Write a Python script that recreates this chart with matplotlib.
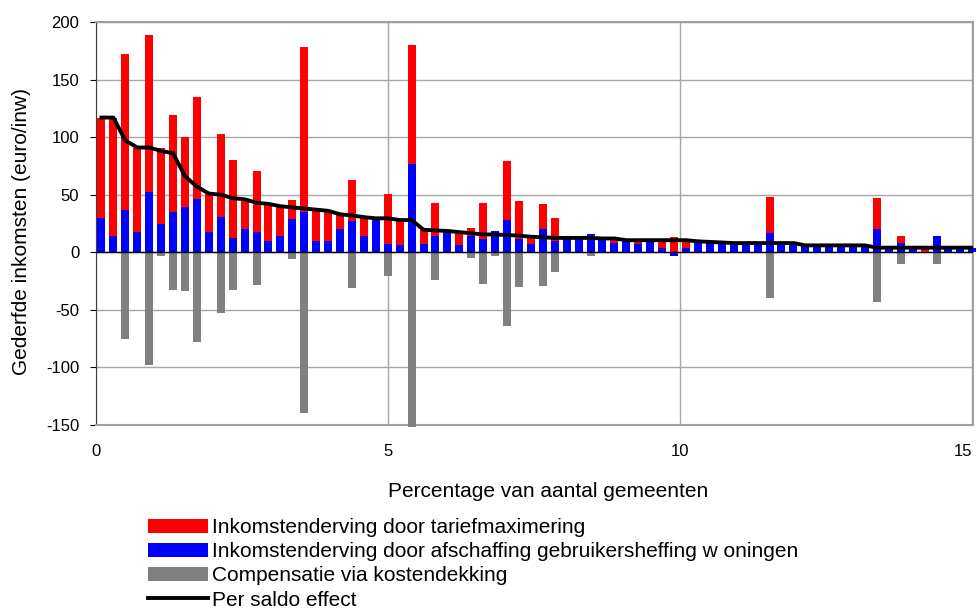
import numpy as np
import matplotlib
matplotlib.use("Agg")
import matplotlib.pyplot as plt

plt.rcParams['font.family'] = ['Liberation Sans', 'DejaVu Sans']
plt.rcParams['axes.unicode_minus'] = False

# bijdrage per gemeente (euro/inw), gesorteerd op saldo
blauw = [30, 14, 37, 18, 52, 25, 35, 39, 46, 18,
         31, 12, 20, 18, 10, 14, 29, 35, 10, 10,
         20, 27, 14, 29.5, 7.5, 6, 77, 7.5, 14, 18.5,
         6.5, 14.5, 11.5, 18.5, 28, 11.5, 7.5, 20, 10, 12.5,
         12.5, 15.5, 12, 8, 10.5, 7.5, 10.5, 4, -3, 4,
         9.5, 9, 8.5, 9, 8, 8, 17, 8, 8, 6,
         6, 6, 7, 7, 6, 20, 4, 8, 4, 0,
         14, 4, 4, 4]
rood = [87, 103, 135, 73, 137, 66, 84, 61, 89, 33,
        72, 68, 26, 53, 32, 26, 16, 143, 27, 27,
        13, 36, 16.5, 0, 43, 23, 103, 12, 29, 0,
        11, 7, 31.5, 0, 51, 33, 6, 22, 20, 0,
        0, 0, 0, 5, 0, 3, 0, 7.5, 13.5, 6.5,
        0, 0, 0, 0, 0, 0, 31, 0, 0, 0,
        0, 0, 0, 0, 0, 27, 0, 6, 0, 4,
        0, 0, 0, 0]
grijs = [0, 0, -75, 0, -98, -3, -33, -34, -78, 0,
         -53, -33, 0, -28, 0, 0, -6, -140, 0, -1,
         0, -31, 0, 0, -21, -1, -152, 0, -24, 0,
         0, -5, -27.5, -3, -64, -30, 0, -29, -17.5, 0,
         0, -3, 0, -1, 0, 0, 0, -1, 0, 0,
         0, 0, 0, -1, 0, 0, -40, 0, 0, 0,
         0, 0, -1, -1, 0, -43, 0, -10, 0, 0,
         -10, 0, 0, 0]

blauw = np.array(blauw, dtype=float)
rood = np.array(rood, dtype=float)
grijs = np.array(grijs, dtype=float)
saldo = blauw + rood + grijs

n = len(blauw)
pct = 0.094 + np.arange(n) * 0.2043  # percentage van aantal gemeenten

fig = plt.figure(figsize=(9.78, 6.10), dpi=100)
ax = fig.add_axes([96 / 978, 1 - 425 / 610, 877 / 978, 403 / 610])

w = 0.137
b_rood = ax.bar(pct, rood, w, bottom=np.maximum(blauw, 0), color='#ff0000',
                label='Inkomstenderving door tariefmaximering', zorder=3, clip_on=False)
b_blauw = ax.bar(pct, blauw, w, color='#0000ff',
                 label='Inkomstenderving door afschaffing gebruikersheffing w oningen',
                 zorder=3, clip_on=False)
b_grijs = ax.bar(pct, grijs, w, color='#808080', label='Compensatie via kostendekking',
                 zorder=3, clip_on=False)
l_saldo, = ax.plot(pct, saldo, color='black', lw=2.8, label='Per saldo effect', zorder=5)

ax.axhline(0, color='black', lw=1, zorder=4)

ax.set_xlim(0, 15.02)
ax.set_ylim(-150, 200)
ax.set_xticks([0, 5, 10, 15])
ax.set_yticks(np.arange(-150, 201, 50))
ax.grid(True, color='#a6a6a6', lw=1, zorder=0)

for s in ['top', 'right', 'bottom']:
    ax.spines[s].set_color('#a0a0a0')
    ax.spines[s].set_linewidth(1.5)
ax.spines['left'].set_color('#404040')

ax.tick_params(axis='y', direction='out', length=4, pad=8, labelsize=12)
ax.tick_params(axis='x', length=0, pad=14, labelsize=12)
ax.get_xticklabels()[-1].set_ha('right')

ax.set_ylabel('Gederfde inkomsten (euro/inw)', fontsize=15)
ax.yaxis.set_label_coords(-0.085, 0.48)
ax.yaxis.label.set_va('center')
ax.set_xlabel('Percentage van aantal gemeenten', fontsize=15)
ax.xaxis.set_label_coords(0.515, -0.164)
ax.xaxis.label.set_va('center')

fig.legend(handles=[b_rood, b_blauw, b_grijs, l_saldo],
           loc='upper left', bbox_to_anchor=(148 / 978, 1 - 518 / 610),
           frameon=False, fontsize=15, handlelength=2.9, handleheight=0.65,
           handletextpad=0.15, labelspacing=0.25, borderpad=0, borderaxespad=0)

fig.savefig('out.png', dpi=100)
